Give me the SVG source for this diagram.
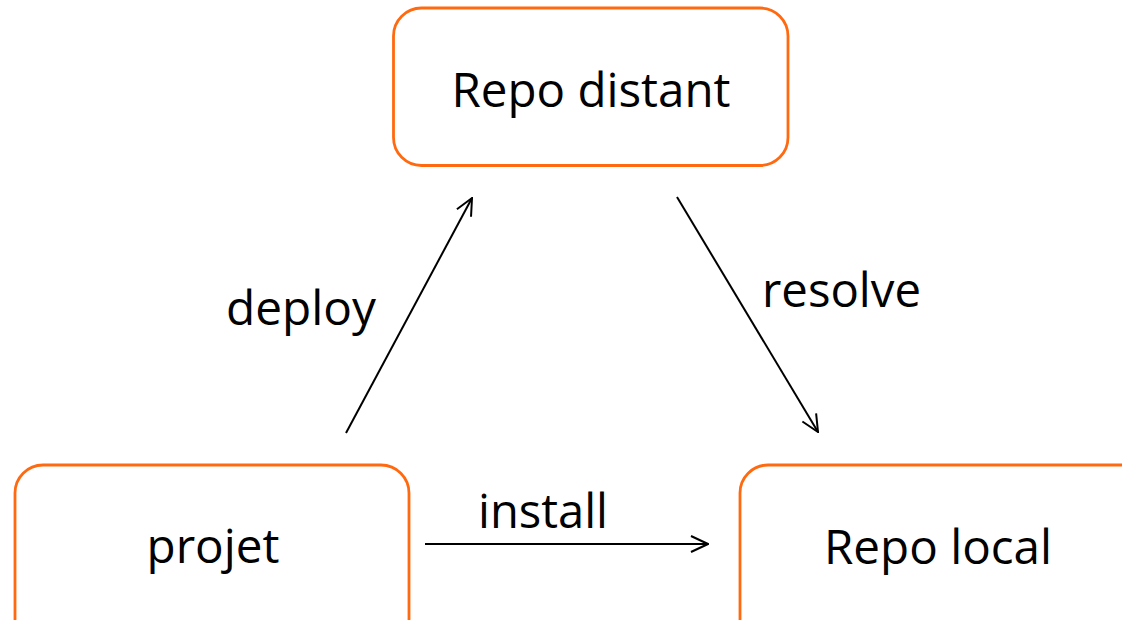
<svg xmlns="http://www.w3.org/2000/svg" width="1122" height="620" viewBox="0 0 1122 620">
<style>
.box{fill:#fff;stroke:#FF6A10;stroke-width:2.8}
.t{font-family:"Open Sans","Liberation Sans",sans-serif;font-size:48px;fill:#000}
.c{stroke:#000;stroke-width:2;fill:none}
</style>
<defs>
<marker id="ah" viewBox="0 0 20 20" refX="19" refY="10" markerWidth="20" markerHeight="20" markerUnits="userSpaceOnUse" orient="auto">
<path d="M2,2 L19,10 L2,18" fill="none" stroke="#000" stroke-width="2"/>
</marker>
</defs>
<rect width="1122" height="620" fill="#fff"/>
<g id="repo-distant">
<rect class="box" x="393.5" y="8" width="394.5" height="157.5" rx="28"/>
<text class="t" x="591" y="107" text-anchor="middle" textLength="279" lengthAdjust="spacingAndGlyphs">Repo distant</text>
</g>
<g id="projet">
<rect class="box" x="15" y="465" width="394" height="185" rx="28"/>
<text class="t" x="213" y="563" text-anchor="middle" textLength="133" lengthAdjust="spacingAndGlyphs">projet</text>
</g>
<g id="repo-local">
<rect class="box" x="740" y="465" width="420" height="185" rx="28"/>
<text class="t" x="938" y="564" text-anchor="middle" textLength="228" lengthAdjust="spacingAndGlyphs">Repo local</text>
</g>
<g id="connectors">
<line class="c" x1="346" y1="433" x2="472" y2="198" marker-end="url(#ah)"/>
<line class="c" x1="677" y1="197" x2="818" y2="432" marker-end="url(#ah)"/>
<line class="c" x1="425" y1="544" x2="708" y2="544" marker-end="url(#ah)"/>
<text class="t" x="226" y="325" textLength="150" lengthAdjust="spacingAndGlyphs">deploy</text>
<text class="t" x="762" y="307" textLength="159" lengthAdjust="spacingAndGlyphs">resolve</text>
<text class="t" x="478" y="528" textLength="130" lengthAdjust="spacingAndGlyphs">install</text>
</g>
</svg>
